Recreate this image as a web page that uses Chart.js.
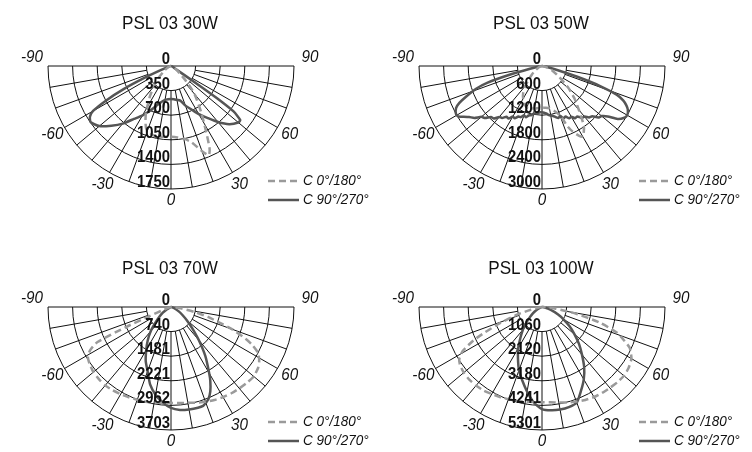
<!DOCTYPE html>
<html lang="en">
<head>
<meta charset="UTF-8">
<title>PSL 03 light distribution</title>
<script src="https://cdn.jsdelivr.net/npm/chart.js@4.4.0/dist/chart.umd.min.js"></script>
<style>
    html, body { margin: 0; padding: 0; background: #fff; width: 752px; height: 452px; overflow: hidden; }
    canvas { position: absolute; }
</style>
</head>
<body>
<canvas id="p30" width="400" height="226" style="left:0px;top:0px"></canvas>
<canvas id="p50" width="376" height="226" style="left:376px;top:0px"></canvas>
<canvas id="p70" width="400" height="226" style="left:0px;top:226px"></canvas>
<canvas id="p100" width="376" height="226" style="left:376px;top:226px"></canvas>
<script>
    // titles and ring tick labels
    const titles = ['PSL 03 30W', 'PSL 03 50W', 'PSL 03 70W', 'PSL 03 100W'];
    const rings30 = [350, 700, 1050, 1400, 1750];
    const rings50 = [600, 1200, 1800, 2400, 3000];
    const rings70 = [740, 1481, 2221, 2962, 3703];
    const rings100 = [1060, 2120, 3180, 4241, 5301];
    const angleTicks = [-90, -60, -30, 0, 30, 60, 90];
    const legendLabels = ['C 0°/180°', 'C 90°/270°'];

    // PSL 03 30W  (angle from nadir in degrees, intensity in cd)
    const a30c0 = [-90, -75, -65, -55, -45, -40, -35, -30, -28, -25, -22, -20, -15, -10, -5, 0, 5, 10, 15, 20, 23, 25, 28, 33, 40, 45, 53, 60, 70, 90];
    const v30c0 = [0, 20, 50, 120, 280, 380, 520, 680, 760, 860, 950, 980, 1015, 1020, 1012, 1008, 1020, 1050, 1120, 1290, 1378, 1300, 1070, 790, 520, 305, 120, 60, 20, 0];
    const a30c90 = [-90, -80, -72, -68, -66, -64, -62, -60, -58, -55, -50, -45, -40, -35, -30, -25, -20, -15, -10, -5, 0, 5, 10, 15, 20, 25, 30, 35, 40, 45, 50, 52, 54, 55, 55.5, 56, 58, 70, 90];
    const v30c90 = [0, 10, 40, 150, 400, 750, 1050, 1280, 1360, 1395, 1330, 1200, 1070, 920, 810, 704, 600, 530, 490, 475, 468, 475, 490, 510, 600, 680, 790, 900, 1040, 1170, 1250, 1250, 1100, 800, 500, 200, 60, 20, 0];

    // PSL 03 50W
    const a50c0 = [-90, -75, -65, -55, -50, -45, -40, -35, -30, -25, -20, -15, -10, -5, 0, 5, 10, 15, 20, 23, 25, 28, 30, 32, 35, 40, 45, 50, 55, 60, 67, 75, 90];
    const v50c0 = [0, 40, 100, 220, 320, 450, 640, 800, 920, 1010, 1080, 1070, 1050, 1030, 1020, 1020, 1050, 1130, 1280, 1600, 1760, 1930, 1990, 1920, 1780, 1400, 1120, 850, 590, 420, 260, 100, 0];
    const a50c90 = [-90, -80, -77, -75, -73, -71, -68, -66, -64, -61, -59, -57.5, -55, -52.5, -50, -47.5, -45, -42.5, -40, -37.5, -35, -32.5, -30, -27.5, -25, -22.5, -20, -17.5, -15, -12.5, -10, -7.5, -5, -2.5, 0,
                    2.5, 5, 7.5, 10, 12.5, 15, 17.5, 20, 22.5, 25, 27.5, 30, 32.5, 35, 37.5, 40, 42.5, 45, 47.5, 50, 52.5, 55, 57.5, 60, 63, 65, 67, 69, 71, 73, 75, 78, 85, 90];
    const v50c90 = [0, 80, 300, 800, 1400, 1700, 2000, 2200, 2330, 2400, 2390, 2300, 2170, 2080, 1930, 1880, 1760, 1740, 1620, 1600, 1510, 1520, 1420, 1440, 1360, 1350, 1280, 1310, 1250, 1230, 1180, 1170, 1150, 1130, 1130,
                    1140, 1160, 1200, 1230, 1250, 1290, 1330, 1300, 1380, 1360, 1440, 1430, 1510, 1500, 1600, 1610, 1700, 1730, 1860, 1900, 2020, 2250, 2360, 2400, 2350, 2270, 2150, 1950, 1500, 900, 400, 150, 30, 0];

    // PSL 03 70W
    const a70c0 = [-90, -75, -70, -67, -66, -64.5, -62, -59, -55, -50, -45, -40, -35, -30, -25, -20, -15, -10, -5, 0, 5, 10, 15, 20, 25, 30, 35, 40, 45, 50, 55, 58, 62, 65, 67, 70, 72, 75, 78, 82, 86, 90];
    const v70c0 = [0, 40, 200, 700, 1500, 2450, 2750, 2920, 2990, 3050, 3070, 3080, 3060, 3030, 3000, 2970, 2950, 2920, 2900, 2890, 2900, 2930, 2980, 3040, 3090, 3130, 3170, 3200, 3230, 3250, 3200, 3130, 2980, 2700, 2440, 1950, 1550, 1150, 740, 300, 80, 0];
    const a70c90 = [-90, -70, -60, -55, -50, -45, -40, -35, -30, -25, -20, -15, -10, -5, 0, 5, 10, 15, 18, 20, 22, 25, 28, 30, 35, 40, 45, 50, 55, 60, 70, 80, 90];
    const v70c90 = [0, 30, 150, 300, 450, 650, 950, 1220, 1490, 1800, 2060, 2420, 2680, 2880, 3040, 3110, 3130, 3140, 3130, 3070, 3000, 2800, 2520, 2300, 1800, 1300, 900, 620, 420, 280, 90, 20, 0];

    // PSL 03 100W
    const a100c0 = [-90, -80, -76, -73, -69, -66, -64, -61, -58, -55, -50, -45, -40, -35, -30, -25, -20, -15, -10, -5, 0, 5, 10, 15, 20, 25, 30, 35, 40, 45, 50, 55, 60, 65, 68, 71, 75, 79, 83, 87, 90];
    const v100c0 = [0, 100, 500, 1100, 1940, 2700, 3290, 3900, 4200, 4320, 4400, 4430, 4420, 4390, 4330, 4280, 4230, 4190, 4140, 4110, 4100, 4120, 4180, 4260, 4340, 4420, 4480, 4520, 4550, 4590, 4610, 4560, 4450, 4170, 3800, 3440, 2550, 1450, 600, 150, 0];
    const a100c90 = [-90, -70, -60, -55, -50, -45, -40, -35, -30, -25, -20, -15, -10, -5, 0, 5, 10, 15, 20, 25, 30, 35, 40, 45, 50, 55, 60, 65, 72, 80, 90];
    const v100c90 = [0, 60, 300, 480, 680, 960, 1290, 1620, 2050, 2450, 2900, 3280, 3700, 4120, 4400, 4470, 4490, 4470, 4380, 3980, 3600, 3170, 2680, 2260, 1830, 1450, 1080, 750, 380, 120, 0];

    const FONT = '"Liberation Sans", Arial, sans-serif';
    const DASH_COLOR = '#9a9a9a';
    const SOLID_COLOR = '#555555';
    const RADIUS = 123; // px of outer ring

    function toXY(angles, values) {
        return angles.map(function (a, i) {
            let t = a * Math.PI / 180;
            return { x: values[i] * Math.sin(t), y: -values[i] * Math.cos(t) };
        });
    }

    // text squeezed a little to look like the condensed original face
    function narrowText(ctx, text, x, y, sx) {
        ctx.save();
        ctx.translate(x, y);
        ctx.scale(sx, 1);
        ctx.fillText(text, 0, 0);
        ctx.restore();
    }

    // grid, labels, legend and title of one polar panel
    const polarPanel = {
        id: 'polarPanel',
        beforeDatasetsDraw(chart, args, opts) {
            const ctx = chart.ctx, xs = chart.scales.x, ys = chart.scales.y;
            const cx = xs.getPixelForValue(0), cy = ys.getPixelForValue(0);
            const rad = v => xs.getPixelForValue(v) - cx;
            const rings = opts.rings;
            const R = rad(rings[rings.length - 1]), r1 = rad(rings[0]);
            ctx.save();
            ctx.strokeStyle = '#111';
            ctx.lineWidth = 1;
            ctx.beginPath();
            rings.forEach(function (v) {
                let r = rad(v);
                ctx.moveTo(cx + r, cy);
                ctx.arc(cx, cy, r, 0, Math.PI);
            });
            ctx.moveTo(cx - R, cy);
            ctx.lineTo(cx + R, cy);
            for (let a = -80; a <= 80; a += 10) {
                let s = Math.sin(a * Math.PI / 180), c = Math.cos(a * Math.PI / 180);
                ctx.moveTo(cx + r1 * s, cy + r1 * c);
                ctx.lineTo(cx + R * s, cy + R * c);
            }
            ctx.stroke();
            ctx.restore();
        },
        afterDatasetsDraw(chart, args, opts) {
            const ctx = chart.ctx, xs = chart.scales.x, ys = chart.scales.y;
            const cx = xs.getPixelForValue(0), cy = ys.getPixelForValue(0);
            const rad = v => xs.getPixelForValue(v) - cx;
            const rings = opts.rings;
            const R = rad(rings[rings.length - 1]);
            ctx.save();
            ctx.fillStyle = '#111';

            // ring values on the vertical axis
            ctx.font = 'bold 16.5px ' + FONT;
            ctx.textAlign = 'right';
            ctx.textBaseline = 'alphabetic';
            narrowText(ctx, '0', cx - 1, cy - 2, 0.9);
            rings.forEach(function (v) {
                narrowText(ctx, String(v), cx - 1, cy + rad(v) - 2, 0.9);
            });

            // angle labels
            ctx.font = 'italic 16px ' + FONT;
            ctx.textAlign = 'center';
            ctx.textBaseline = 'middle';
            angleTicks.forEach(function (a) {
                let t = a * Math.PI / 180, rl = R + 14;
                let lx = cx + rl * Math.sin(t), ly = cy + rl * Math.cos(t);
                if (Math.abs(a) === 90) { ly -= 8; lx += (a > 0 ? 1 : -1) * 2; }
                if (a === 0) { ly -= 2; }
                narrowText(ctx, String(a), lx, ly, 0.95);
            });

            // legend
            ctx.lineWidth = 2.5;
            ctx.strokeStyle = DASH_COLOR;
            ctx.setLineDash([7, 4]);
            ctx.beginPath();
            ctx.moveTo(cx + 97, cy + 115);
            ctx.lineTo(cx + 128, cy + 115);
            ctx.stroke();
            ctx.setLineDash([]);
            ctx.strokeStyle = SOLID_COLOR;
            ctx.beginPath();
            ctx.moveTo(cx + 97, cy + 134);
            ctx.lineTo(cx + 128, cy + 134);
            ctx.stroke();
            ctx.font = 'italic 15px ' + FONT;
            ctx.textAlign = 'left';
            narrowText(ctx, legendLabels[0], cx + 132, cy + 115, 0.9);
            narrowText(ctx, legendLabels[1], cx + 132, cy + 134, 0.9);

            // title
            ctx.font = '18px ' + FONT;
            ctx.textAlign = 'center';
            ctx.textBaseline = 'alphabetic';
            narrowText(ctx, opts.title, cx - 1, opts.titleY, 0.95);
            ctx.restore();
        }
    };

    function makePanel(id, title, rings, a0, v0, a90, v90, cx, cy, titleY) {
        const canvas = document.getElementById(id);
        const W = canvas.width, H = canvas.height;
        const u = rings[rings.length - 1] / RADIUS; // cd per px
        return new Chart(canvas, {
            type: 'scatter',
            data: {
                datasets: [{
                    label: legendLabels[0],
                    data: toXY(a0, v0),
                    showLine: true,
                    borderColor: DASH_COLOR,
                    borderWidth: 2.5,
                    borderDash: [7, 4],
                    pointRadius: 0,
                    tension: 0.2,
                    fill: false
                }, {
                    label: legendLabels[1],
                    data: toXY(a90, v90),
                    showLine: true,
                    borderColor: SOLID_COLOR,
                    borderWidth: 2.5,
                    pointRadius: 0,
                    tension: 0.2,
                    fill: false
                }]
            },
            options: {
                responsive: false,
                animation: false,
                layout: { padding: 0 },
                scales: {
                    x: { type: 'linear', display: false, min: -cx * u, max: (W - cx) * u },
                    y: { type: 'linear', display: false, min: -(H - cy) * u, max: cy * u }
                },
                plugins: {
                    legend: { display: false },
                    tooltip: { enabled: false },
                    polarPanel: { rings: rings, title: title, titleY: titleY }
                }
            },
            plugins: [polarPanel]
        });
    }

    makePanel('p30', titles[0], rings30, a30c0, v30c0, a30c90, v30c90, 171, 66, 29);
    makePanel('p50', titles[1], rings50, a50c0, v50c0, a50c90, v50c90, 166, 66, 29);
    makePanel('p70', titles[2], rings70, a70c0, v70c0, a70c90, v70c90, 171, 81, 48);
    makePanel('p100', titles[3], rings100, a100c0, v100c0, a100c90, v100c90, 166, 81, 48);
</script>
</body>
</html>
